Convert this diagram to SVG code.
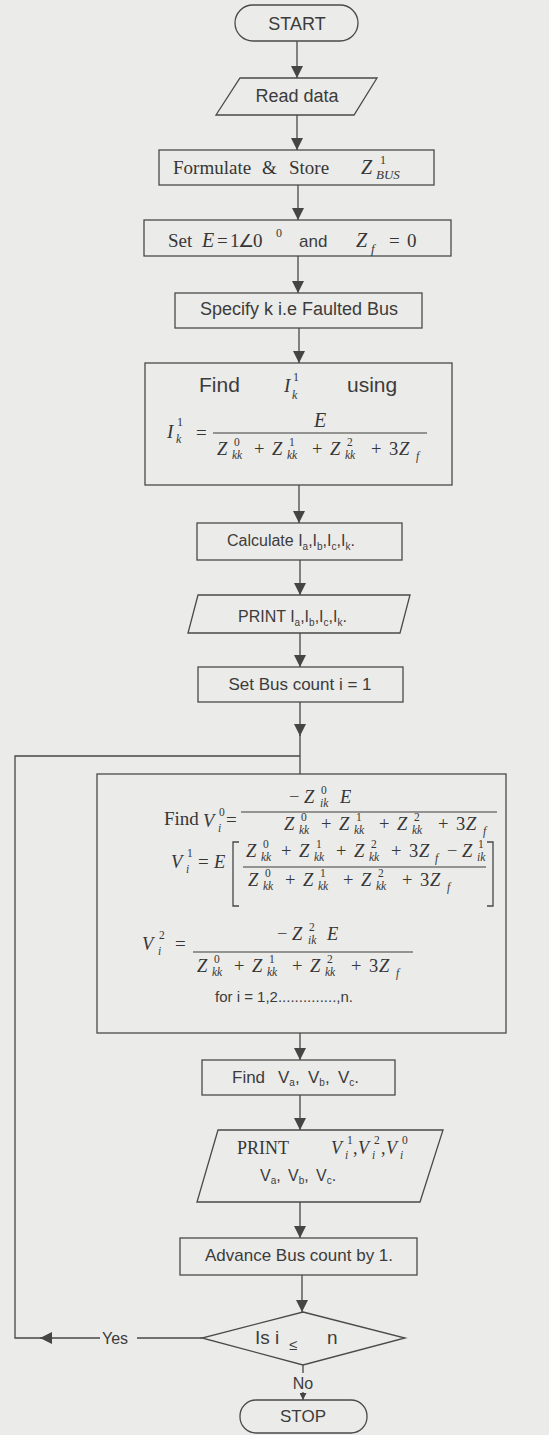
<svg xmlns="http://www.w3.org/2000/svg" width="549" height="1435" viewBox="0 0 549 1435">
<defs>
<marker id="arr" viewBox="0 0 12 12" refX="12" refY="6" markerWidth="12" markerHeight="12" orient="auto" markerUnits="userSpaceOnUse"><path d="M0,0 L12,6 L0,12 z" fill="#454545"/></marker>
<marker id="arrs" viewBox="0 0 12 12" refX="12" refY="6" markerWidth="7" markerHeight="7" orient="auto" markerUnits="userSpaceOnUse"><path d="M0,0 L12,6 L0,12 z" fill="#454545"/></marker>
</defs>
<style>
.bx{fill:none;stroke:#4a4a4a;stroke-width:1.3}
.ln{fill:none;stroke:#474747;stroke-width:1.3}
.sf{font-family:"Liberation Sans",Arial,sans-serif;fill:#3c3c3c}
.tm{font-family:"Liberation Serif","Times New Roman",serif;fill:#363636}
.mi{font-family:"Liberation Serif","Times New Roman",serif;font-style:italic;fill:#363636}
.s{font-size:11.5px}
.m{font-size:18.5px}
.bar{stroke:#3c3c3c;stroke-width:1.2}
</style>
<rect width="549" height="1435" fill="#ebebe9"/>

<g id="connectors">
<path class="ln" d="M297,41 V78" marker-end="url(#arr)"/>
<path class="ln" d="M297,115 V150" marker-end="url(#arr)"/>
<path class="ln" d="M298,185 V220" marker-end="url(#arr)"/>
<path class="ln" d="M298,256 V293" marker-end="url(#arr)"/>
<path class="ln" d="M299,328 V363" marker-end="url(#arr)"/>
<path class="ln" d="M299,485 V523" marker-end="url(#arr)"/>
<path class="ln" d="M300,560 V595" marker-end="url(#arr)"/>
<path class="ln" d="M300,633 V667" marker-end="url(#arr)"/>
<path class="ln" d="M300,702 V736" marker-end="url(#arr)"/>
<path class="ln" d="M300,735 V774"/>
<path class="ln" d="M300,1033 V1060" marker-end="url(#arr)"/>
<path class="ln" d="M300,1095 V1130" marker-end="url(#arr)"/>
<path class="ln" d="M300,1202 V1238" marker-end="url(#arr)"/>
<path class="ln" d="M302,1275 V1312" marker-end="url(#arr)"/>
<path class="ln" d="M303,1365 V1373"/>
<path class="ln" d="M303,1392 V1400" marker-end="url(#arrs)"/>
<path class="ln" d="M202,1338 H137"/>
<path class="ln" d="M100,1338 H40" marker-end="url(#arr)"/>
<path class="ln" d="M41,1338 H15 V756 H300"/>
<text class="sf" x="102" y="1344" font-size="16">Yes</text>
<text class="sf" x="303" y="1389" font-size="16" text-anchor="middle">No</text>
</g>

<g id="start">
<rect class="bx" x="235" y="5" width="123" height="36" rx="18"/>
<text class="sf" x="297" y="30" font-size="18" text-anchor="middle">START</text>
</g>

<g id="read">
<polygon class="bx" points="240,78 377,78 354,115 216,115"/>
<text class="sf" x="297" y="102" font-size="18" text-anchor="middle">Read data</text>
</g>

<g id="formulate">
<rect class="bx" x="159" y="150" width="275" height="35"/>
<text class="tm" x="173" y="174" font-size="19">Formulate</text>
<text class="tm" x="262" y="174" font-size="19">&amp;</text>
<text class="tm" x="289" y="174" font-size="19">Store</text>
<text class="mi" x="361" y="174" font-size="20">Z</text>
<text class="tm" x="380" y="164" font-size="12">1</text>
<text class="mi" x="376" y="179" font-size="13">BUS</text>
</g>

<g id="setE">
<rect class="bx" x="144" y="220" width="307" height="36"/>
<text class="tm" x="168" y="247" font-size="19">Set</text>
<text class="mi" x="202" y="247" font-size="20">E</text>
<text class="tm" x="217" y="247" font-size="19">=</text>
<text class="tm" x="230" y="247" font-size="19">1</text>
<text class="tm" x="238" y="247" font-size="18">∠</text>
<text class="tm" x="253" y="247" font-size="19">0</text>
<text class="tm" x="276" y="237" font-size="12">0</text>
<text class="sf" x="299" y="247" font-size="17">and</text>
<text class="mi" x="356" y="247" font-size="20">Z</text>
<text class="mi" x="371" y="253" font-size="13">f</text>
<text class="tm" x="389" y="247" font-size="19">=</text>
<text class="tm" x="407" y="247" font-size="19">0</text>
</g>

<g id="specify">
<rect class="bx" x="175" y="293" width="247" height="35"/>
<text class="sf" x="299" y="315" font-size="18" text-anchor="middle">Specify k i.e Faulted Bus</text>
</g>

<g id="findI">
<rect class="bx" x="145" y="363" width="307" height="122"/>
<text class="sf" x="199" y="392" font-size="21">Find</text>
<text class="mi" x="284" y="392" font-size="19">I</text>
<text class="tm" x="293" y="381" font-size="12">1</text>
<text class="mi" x="292" y="399" font-size="12">k</text>
<text class="sf" x="347" y="392" font-size="21">using</text>
<text class="mi" x="167" y="438" font-size="19">I</text>
<text class="tm" x="177" y="426" font-size="12">1</text>
<text class="mi" x="176" y="443" font-size="12">k</text>
<text class="tm" x="196" y="439" font-size="19">=</text>
<text class="mi" x="314" y="427" font-size="20">E</text>
<line class="bar" x1="213" y1="433" x2="427" y2="433"/>
<g transform="translate(217,455)">
<text class="mi m" x="0" y="0">Z</text><text class="tm s" x="17" y="-9">0</text><text class="mi s" x="15" y="4">kk</text>
<text class="tm m" x="37" y="0">+</text>
<text class="mi m" x="55" y="0">Z</text><text class="tm s" x="72" y="-9">1</text><text class="mi s" x="70" y="4">kk</text>
<text class="tm m" x="95" y="0">+</text>
<text class="mi m" x="113" y="0">Z</text><text class="tm s" x="130" y="-9">2</text><text class="mi s" x="128" y="4">kk</text>
<text class="tm m" x="154" y="0">+</text>
<text class="tm m" x="172" y="0">3</text><text class="mi m" x="182" y="0">Z</text><text class="mi s" x="199" y="5">f</text>
</g>
</g>

<g id="calculate">
<rect class="bx" x="197" y="523" width="205" height="37"/>
<text class="sf" x="227" y="546" font-size="16">Calculate I<tspan font-size="10" dy="4">a</tspan><tspan dy="-4">,I</tspan><tspan font-size="10" dy="4">b</tspan><tspan dy="-4">,I</tspan><tspan font-size="10" dy="4">c</tspan><tspan dy="-4">,I</tspan><tspan font-size="10" dy="4">k</tspan><tspan dy="-4">.</tspan></text>
</g>

<g id="printI">
<polygon class="bx" points="198,595 410,595 400,633 188,633"/>
<text class="sf" x="238" y="622" font-size="16">PRINT I<tspan font-size="10" dy="4">a</tspan><tspan dy="-4">,I</tspan><tspan font-size="10" dy="4">b</tspan><tspan dy="-4">,I</tspan><tspan font-size="10" dy="4">c</tspan><tspan dy="-4">,I</tspan><tspan font-size="10" dy="4">k</tspan><tspan dy="-4">.</tspan></text>
</g>

<g id="setbus">
<rect class="bx" x="198" y="667" width="205" height="35"/>
<text class="sf" x="300" y="690" font-size="17" text-anchor="middle">Set Bus count i = 1</text>
</g>

<g id="findV">
<rect class="bx" x="97" y="774" width="409" height="259"/>
<!-- line 1 -->
<text class="tm" x="164" y="825" font-size="19">Find</text>
<text class="mi m" x="203" y="827">V</text><text class="tm s" x="219" y="816">0</text><text class="mi s" x="218" y="832">i</text>
<text class="tm" x="226" y="826" font-size="19">=</text>
<text class="tm m" x="289" y="803">−</text>
<text class="mi m" x="304" y="803">Z</text><text class="tm s" x="321" y="794">0</text><text class="mi s" x="320" y="807">ik</text>
<text class="mi m" x="340" y="803">E</text>
<line class="bar" x1="241" y1="812" x2="497" y2="812"/>
<g transform="translate(284,830)">
<text class="mi m" x="0" y="0">Z</text><text class="tm s" x="17" y="-9">0</text><text class="mi s" x="15" y="4">kk</text>
<text class="tm m" x="37" y="0">+</text>
<text class="mi m" x="55" y="0">Z</text><text class="tm s" x="72" y="-9">1</text><text class="mi s" x="70" y="4">kk</text>
<text class="tm m" x="95" y="0">+</text>
<text class="mi m" x="113" y="0">Z</text><text class="tm s" x="130" y="-9">2</text><text class="mi s" x="128" y="4">kk</text>
<text class="tm m" x="154" y="0">+</text>
<text class="tm m" x="172" y="0">3</text><text class="mi m" x="182" y="0">Z</text><text class="mi s" x="199" y="5">f</text>
</g>
<!-- line 2 -->
<text class="mi m" x="171" y="868">V</text><text class="tm s" x="187" y="857">1</text><text class="mi s" x="186" y="873">i</text>
<text class="tm" x="198" y="868" font-size="19">=</text>
<text class="mi m" x="214" y="868">E</text>
<path class="ln" d="M239,842 H233 V906 H239 M487,842 H493 V906 H487"/>
<g transform="translate(246,857)">
<text class="mi m" x="0" y="0">Z</text><text class="tm s" x="17" y="-9">0</text><text class="mi s" x="15" y="4">kk</text>
<text class="tm m" x="35" y="0">+</text>
<text class="mi m" x="53" y="0">Z</text><text class="tm s" x="70" y="-9">1</text><text class="mi s" x="68" y="4">kk</text>
<text class="tm m" x="90" y="0">+</text>
<text class="mi m" x="108" y="0">Z</text><text class="tm s" x="125" y="-9">2</text><text class="mi s" x="123" y="4">kk</text>
<text class="tm m" x="145" y="0">+</text>
<text class="tm m" x="163" y="0">3</text><text class="mi m" x="173" y="0">Z</text><text class="mi s" x="189" y="5">f</text>
<text class="tm m" x="201" y="0">−</text>
<text class="mi m" x="216" y="0">Z</text><text class="tm s" x="232" y="-9">1</text><text class="mi s" x="231" y="4">ik</text>
</g>
<line class="bar" x1="243" y1="867" x2="486" y2="867"/>
<g transform="translate(248,886)">
<text class="mi m" x="0" y="0">Z</text><text class="tm s" x="17" y="-9">0</text><text class="mi s" x="15" y="4">kk</text>
<text class="tm m" x="37" y="0">+</text>
<text class="mi m" x="55" y="0">Z</text><text class="tm s" x="72" y="-9">1</text><text class="mi s" x="70" y="4">kk</text>
<text class="tm m" x="95" y="0">+</text>
<text class="mi m" x="113" y="0">Z</text><text class="tm s" x="130" y="-9">2</text><text class="mi s" x="128" y="4">kk</text>
<text class="tm m" x="154" y="0">+</text>
<text class="tm m" x="172" y="0">3</text><text class="mi m" x="182" y="0">Z</text><text class="mi s" x="199" y="5">f</text>
</g>
<!-- line 3 -->
<text class="mi m" x="142" y="950">V</text><text class="tm s" x="159" y="939">2</text><text class="mi s" x="158" y="955">i</text>
<text class="tm" x="175" y="950" font-size="19">=</text>
<text class="tm m" x="277" y="940">−</text>
<text class="mi m" x="292" y="940">Z</text><text class="tm s" x="309" y="931">2</text><text class="mi s" x="308" y="944">ik</text>
<text class="mi m" x="327" y="940">E</text>
<line class="bar" x1="193" y1="952" x2="413" y2="952"/>
<g transform="translate(197,972)">
<text class="mi m" x="0" y="0">Z</text><text class="tm s" x="17" y="-9">0</text><text class="mi s" x="15" y="4">kk</text>
<text class="tm m" x="37" y="0">+</text>
<text class="mi m" x="55" y="0">Z</text><text class="tm s" x="72" y="-9">1</text><text class="mi s" x="70" y="4">kk</text>
<text class="tm m" x="95" y="0">+</text>
<text class="mi m" x="113" y="0">Z</text><text class="tm s" x="130" y="-9">2</text><text class="mi s" x="128" y="4">kk</text>
<text class="tm m" x="154" y="0">+</text>
<text class="tm m" x="172" y="0">3</text><text class="mi m" x="182" y="0">Z</text><text class="mi s" x="199" y="5">f</text>
</g>
<text class="sf" x="215" y="1002" font-size="15">for i = 1,2..............,n.</text>
</g>

<g id="findVabc">
<rect class="bx" x="202" y="1060" width="193" height="35"/>
<text class="sf" x="232" y="1083" font-size="17">Find</text>
<text class="sf" x="278" y="1083" font-size="17">V<tspan font-size="10" dy="3">a</tspan><tspan dy="-3">,</tspan></text>
<text class="sf" x="308" y="1083" font-size="17">V<tspan font-size="10" dy="3">b</tspan><tspan dy="-3">,</tspan></text>
<text class="sf" x="338" y="1083" font-size="17">V<tspan font-size="10" dy="3">c</tspan><tspan dy="-3">.</tspan></text>
</g>

<g id="printV">
<polygon class="bx" points="218,1130 443,1130 420,1202 197,1202"/>
<text class="tm" x="237" y="1154" font-size="18">PRINT</text>
<text class="mi" x="331" y="1154" font-size="18">V</text><text class="tm s" x="347" y="1144">1</text><text class="mi s" x="345" y="1159">i</text>
<text class="tm" x="353" y="1154" font-size="18">,</text>
<text class="mi" x="358" y="1154" font-size="18">V</text><text class="tm s" x="374" y="1144">2</text><text class="mi s" x="372" y="1159">i</text>
<text class="tm" x="381" y="1154" font-size="18">,</text>
<text class="mi" x="386" y="1154" font-size="18">V</text><text class="tm s" x="402" y="1144">0</text><text class="mi s" x="400" y="1159">i</text>
<text class="sf" x="260" y="1181" font-size="16">V<tspan font-size="10" dy="3">a</tspan><tspan dy="-3">,</tspan></text>
<text class="sf" x="288" y="1181" font-size="16">V<tspan font-size="10" dy="3">b</tspan><tspan dy="-3">,</tspan></text>
<text class="sf" x="316" y="1181" font-size="16">V<tspan font-size="10" dy="3">c</tspan><tspan dy="-3">.</tspan></text>
</g>

<g id="advance">
<rect class="bx" x="180" y="1238" width="237" height="37"/>
<text class="sf" x="299" y="1261" font-size="17" text-anchor="middle">Advance Bus count by 1.</text>
</g>

<g id="decision">
<polygon class="bx" points="303,1312 405,1338 303,1365 202,1338"/>
<text class="sf" x="255" y="1344" font-size="19">Is i</text>
<text class="sf" x="289" y="1350" font-size="15">≤</text>
<text class="sf" x="327" y="1344" font-size="19">n</text>
</g>

<g id="stop">
<rect class="bx" x="240" y="1400" width="127" height="33" rx="16"/>
<text class="sf" x="303" y="1422" font-size="17" text-anchor="middle">STOP</text>
</g>
</svg>
